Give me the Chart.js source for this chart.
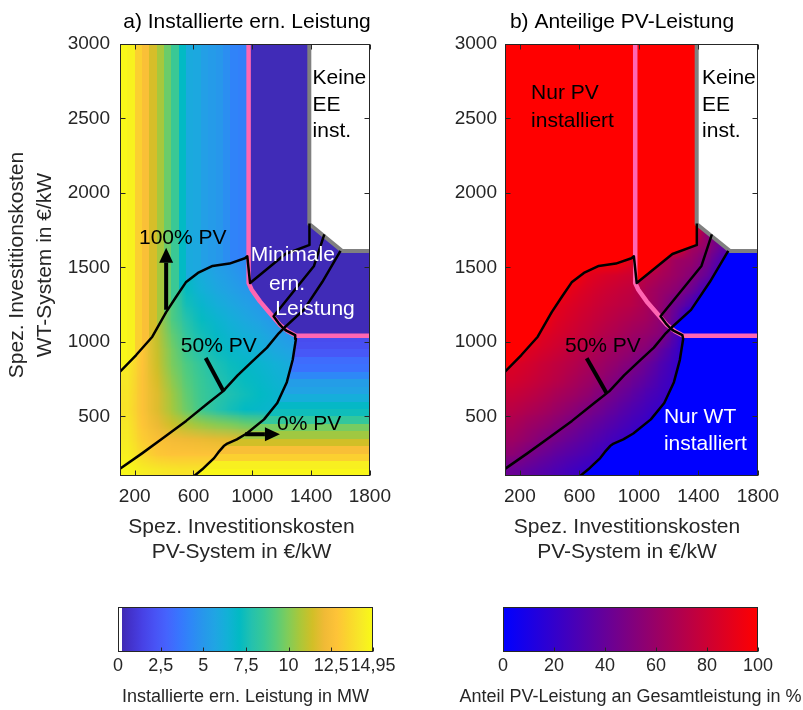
<!DOCTYPE html>
<html lang="de">
<head>
<meta charset="utf-8">
<title>Installierte ern. Leistung / Anteilige PV-Leistung</title>
<script src="https://cdn.jsdelivr.net/npm/chart.js@4.4.1/dist/chart.umd.min.js"></script>
<style>
  html, body { margin: 0; padding: 0; background: #fff; }
  #page { position: relative; width: 803px; height: 710px; overflow: hidden; }
  #page canvas { position: absolute; }
</style>
</head>
<body>
<div id="page">
  <canvas id="mapMW" width="400" height="580" style="left:0;top:0"></canvas>
  <canvas id="mapShare" width="403" height="580" style="left:400px;top:0"></canvas>
  <canvas id="barMW" width="400" height="120" style="left:0;top:590px"></canvas>
  <canvas id="barShare" width="403" height="120" style="left:400px;top:590px"></canvas>
</div>
<script>
// Axis ticks (PV cost on x, WT cost on y, both in €/kW)
const xTicks = [200, 600, 1000, 1400, 1800];
const yTicks = [500, 1000, 1500, 2000, 2500, 3000];
const mwTicks = [0, 2.5, 5, 7.5, 10, 12.5, 14.95];
const shareTicks = [0, 20, 40, 60, 80, 100];
const MW_MAX = 14.95;

// a) installed renewable capacity in MW
// only PV installed (left of the 100% PV line): depends on PV cost only
const pvBandEdges = [100, 150, 200, 250, 300, 350, 400, 450, 500, 550, 600, 650, 700, 750, 800, 850, 900, 950, 1000];
const pvOnlyMW = [14.8, 14.6, 13.3, 12.6, 11.5, 10.6, 9.6, 8.6, 7.1, 6.0, 5.9, 5.4, 5.2, 5.0, 4.6, 4.1, 4.0, 3.9];

// only WT installed (right of the 0% PV line): depends on WT cost only
const wtBandEdges = [100, 150, 200, 250, 300, 350, 400, 450, 500, 550, 600, 650, 700, 750, 800, 850, 900, 950, 1000, 1050];
const wtOnlyMW = [14.8, 14.5, 13.3, 12.5, 11.4, 10.5, 9.8, 8.4, 7.4, 7.0, 6.2, 5.6, 5.3, 4.3, 3.4, 3.2, 2.4, 2.0, 1.9];

// PV and WT mixed, rows from WT cost 100 upwards, columns from PV cost 100
const mixEdgesX = [100, 200, 300, 400, 500, 600, 700, 800, 900, 1000, 1100, 1200, 1300];
const mixEdgesY = [100, 200, 300, 400, 500, 600, 700, 800, 900, 1000, 1100, 1200, 1300, 1400, 1500, 1600];
const mixMW = [
  [14.8, 14.4, 14.2, 14.1, 14.0, 14.0, 14.1, 14.2, 14.3, 14.4, 14.5, 14.6],
  [14.5, 13.6, 13.0, 12.8, 12.8, 12.8, 12.8, 12.8, 12.7, 12.6, 12.5, 12.5],
  [14.3, 13.2, 12.6, 12.3, 12.1, 12.0, 11.9, 11.8, 11.6, 11.4, 11.2, 11.1],
  [14.2, 12.9, 12.0, 11.3, 10.8, 10.4, 10.1,  9.9,  9.6,  9.4,  9.2,  9.0],
  [14.0, 12.7, 11.7, 10.6,  9.6,  8.7,  8.0,  7.5,  7.1,  6.9,  6.7,  6.6],
  [14.1, 12.7, 11.7, 10.5,  9.4,  8.6,  8.1,  7.7,  7.4,  7.1,  6.8,  6.6],
  [14.2, 12.7, 11.5, 10.2,  9.2,  8.5,  7.9,  7.5,  7.2,  6.9,  6.6,  6.3],
  [14.3, 12.8, 11.3,  9.9,  9.0,  8.3,  7.7,  7.3,  7.0,  6.7,  6.4,  6.1],
  [14.5, 12.9, 11.2,  9.8,  8.6,  7.8,  7.3,  6.9,  6.6,  6.3,  5.9,  5.6],
  [14.6, 12.9, 11.1,  9.5,  8.3,  7.5,  7.0,  6.6,  6.3,  6.0,  5.5,  5.1],
  [14.7, 12.9, 11.0,  9.1,  7.9,  7.2,  6.7,  6.3,  5.9,  5.5,  5.0,  4.7],
  [14.7, 12.9, 11.0,  9.1,  7.5,  6.8,  6.3,  5.9,  5.5,  5.1,  4.7,  4.5],
  [14.7, 12.9, 11.0,  9.1,  7.2,  6.4,  5.9,  5.5,  5.1,  4.8,  4.5,  4.3],
  [14.7, 12.9, 11.0,  9.1,  7.0,  6.1,  5.6,  5.2,  4.7,  4.5,  4.3,  4.2],
  [14.7, 12.9, 11.0,  9.1,  7.0,  5.9,  5.3,  4.9,  4.3,  4.2,  4.1,  4.1]
];
const minimalMW = 0.3;   // "Minimale ern. Leistung"
const noReMW = 0;        // "Keine EE inst."

// b) PV share of the installed capacity in %
const pvOnlyShare = 100;
const wtOnlyShare = 0;
const shareEdgesX = [100, 200, 300, 400, 500, 600, 700, 800, 900, 1000, 1100, 1200, 1300, 1400, 1500, 1600];
const shareEdgesY = [100, 200, 300, 400, 500, 600, 700, 800, 900, 1000, 1100, 1200, 1300, 1400, 1500, 1600, 1700, 1800];
const pvShare = [
  [ 42,  38,  34,  30,  26,  22,  21,   0,   0,   0,   0,   0,   0,   0,   0],
  [ 55,  48,  42,  37,  33,  29,  24,  21,   0,   0,   0,   0,   0,   0,   0],
  [ 62,  57,  51,  45,  40,  35,  30,  25,  21,   0,   0,   0,   0,   0,   0],
  [ 67,  62,  58,  53,  47,  41,  36,  31,  26,  22,   0,   0,   0,   0,   0],
  [ 73,  69,  65,  60,  55,  49,  43,  37,  31,  26,  21,   0,   0,   0,   0],
  [ 78,  75,  71,  66,  62,  57,  50,  43,  37,  30,  25,  20,   0,   0,   0],
  [ 83,  80,  76,  72,  67,  62,  57,  50,  43,  36,  28,  21,   0,   0,   0],
  [ 86,  83,  79,  75,  71,  66,  61,  56,  50,  41,  31,  22,   0,   0,   0],
  [100,  88,  84,  80,  75,  71,  66,  61,  57,  52,  38,  25,   0,   0,   0],
  [100, 100,  88,  84,  80,  76,  71,  67,  62,  58,  52,  30,   0,   0,   0],
  [100, 100,  95,  87,  83,  79,  75,  71,  67,  63,  55,  35,   0,   0,   0],
  [100, 100, 100,  90,  86,  82,  78,  75,  72,  66,  57,  42,  28,   0,   0],
  [100, 100, 100, 100,  90,  85,  81,  78,  75,  66,  60,  54,  42,  25,   0],
  [100, 100, 100, 100, 100,  90,  86,  83,  80,  72,  66,  60,  53,  40,  22],
  [100, 100, 100, 100, 100, 100, 100, 100,  88, 100,  72,  62,  59,  48,  30],
  [100, 100, 100, 100, 100, 100, 100, 100, 100, 100, 100, 100,  65,  58,  40],
  [100, 100, 100, 100, 100, 100, 100, 100, 100, 100, 100, 100, 100,  55,  40]
];

// Contour lines and region borders as [PV cost, WT cost]
const line100 = [[100, 800], [210, 912], [320, 1035], [414, 1200], [480, 1300], [548, 1400], [630, 1463], [730, 1510],
  [845, 1526], [950, 1562], [966, 1575], [985, 1395], [1225, 1590], [1386, 1650], [1389, 1795]];
const line50 = [[100, 148], [250, 252], [400, 360], [550, 470], [700, 590], [800, 668], [900, 775], [1000, 870],
  [1100, 962], [1180, 1058], [1212, 1090], [1180, 1125], [1145, 1172], [1420, 1510], [1490, 1722]];
const line0 = [[605, 100], [660, 145], [695, 178], [740, 220], [770, 260], [806, 301], [830, 318], [895, 346], [962, 385],
  [1080, 480], [1170, 590], [1235, 730], [1275, 880], [1297, 1020], [1292, 1045], [1232, 1076], [1212, 1090],
  [1350, 1215], [1476, 1402], [1600, 1612]];
const pinkLine = [[975, 3000], [975, 1395], [996, 1350], [1052, 1272], [1119, 1194], [1187, 1116], [1242, 1071], [1298, 1042], [1800, 1042]];
const greyLine = [[1388, 3000], [1388, 1792], [1612, 1610], [1800, 1610]];

const wtZone = [...line0, [1800, 1610], [1800, 100]];
const mixZone = [...line100, ...[...line0].reverse(), [100, 100]];
const minimalZone = [...pinkLine, ...[...greyLine].reverse()];
const noReZone = [...greyLine, [1800, 3000]];

const FONT = "'Liberation Sans', Arial, Helvetica, sans-serif";
const INK = '#262626';
const PINK = '#ff66b2';
const GREY = '#808080';
Chart.defaults.font.family = FONT;
Chart.defaults.color = INK;
Chart.defaults.elements.point.radius = 0;

// parula colour map, evenly spaced stops
const PARULA = [[62, 38, 168], [67, 50, 203], [71, 65, 229], [72, 82, 244], [69, 99, 253], [56, 117, 254], [46, 135, 247],
  [39, 151, 235], [32, 165, 227], [18, 177, 214], [2, 186, 195], [36, 193, 174], [55, 200, 151], [87, 204, 122],
  [129, 204, 89], [171, 199, 57], [209, 191, 39], [240, 186, 54], [254, 195, 56], [250, 214, 45], [247, 233, 39], [249, 251, 21]];
const rgb = c => `rgb(${c.map(Math.round).join(',')})`;
function parula(t) {
  t = Math.min(1, Math.max(0, t));
  const f = t * (PARULA.length - 1);
  const i = Math.min(PARULA.length - 2, Math.floor(f)), u = f - i;
  return rgb(PARULA[i].map((a, k) => a + (PARULA[i + 1][k] - a) * u));
}
const WHITE_CUT = 1 / 64;
const mwColor = v => v / MW_MAX < WHITE_CUT ? '#ffffff' : parula(v / MW_MAX);
const shareColor = p => rgb([2.55 * p, 0, 255 - 2.55 * p]);

function tracePolygon(chart, pts) {
  const { ctx, scales: { x, y } } = chart;
  ctx.beginPath();
  pts.forEach(([a, b], i) => {
    const px = x.getPixelForValue(a), py = y.getPixelForValue(b);
    if (i) ctx.lineTo(px, py); else ctx.moveTo(px, py);
  });
  ctx.closePath();
}

// Blocks of constant value
function fillCells(chart, edgesX, edgesY, rows, color) {
  const { ctx, scales: { x, y } } = chart;
  rows.forEach((row, j) => {
    const y0 = Math.round(y.getPixelForValue(edgesY[j]));
    const y1 = Math.round(y.getPixelForValue(edgesY[j + 1]));
    row.forEach((v, i) => {
      const x0 = Math.round(x.getPixelForValue(edgesX[i]));
      const x1 = Math.round(x.getPixelForValue(edgesX[i + 1]));
      ctx.fillStyle = color(v);
      ctx.fillRect(x0, y1, x1 - x0, y0 - y1);
    });
  });
}

// Grid cells placed on the scales and shaded smoothly between cell centres
function shadeCells(chart, edgesX, edgesY, rows, color) {
  const { ctx, scales: { x, y } } = chart;
  const n = rows[0].length, m = rows.length;
  const off = document.createElement('canvas');
  off.width = n;
  off.height = m;
  const octx = off.getContext('2d');
  rows.forEach((row, j) => row.forEach((v, i) => {
    octx.fillStyle = color(v);
    octx.fillRect(i, m - 1 - j, 1, 1);
  }));
  const x0 = x.getPixelForValue(edgesX[0]), x1 = x.getPixelForValue(edgesX[n]);
  const yTop = y.getPixelForValue(edgesY[m]), yBot = y.getPixelForValue(edgesY[0]);
  ctx.imageSmoothingEnabled = true;
  ctx.imageSmoothingQuality = 'low';
  ctx.drawImage(off, x0, yTop, x1 - x0, yBot - yTop);
}

function clipTo(chart, pts, draw) {
  chart.ctx.save();
  tracePolygon(chart, pts);
  chart.ctx.clip();
  draw();
  chart.ctx.restore();
}

function clipArea(chart) {
  const { ctx, chartArea: a } = chart;
  ctx.beginPath();
  ctx.rect(a.left, a.top, a.width, a.height);
  ctx.clip();
}

const mwLayers = {
  id: 'mwLayers',
  beforeDatasetsDraw(chart) {
    const { ctx } = chart;
    ctx.save();
    clipArea(chart);
    fillCells(chart, pvBandEdges, [100, 3000], [pvOnlyMW], mwColor);
    clipTo(chart, wtZone, () => fillCells(chart, [100, 1800], wtBandEdges, wtOnlyMW.map(v => [v]), mwColor));
    clipTo(chart, mixZone, () => shadeCells(chart, mixEdgesX, mixEdgesY, mixMW, mwColor));
    ctx.fillStyle = mwColor(minimalMW);
    tracePolygon(chart, minimalZone);
    ctx.fill();
    ctx.fillStyle = mwColor(noReMW);
    tracePolygon(chart, noReZone);
    ctx.fill();
    ctx.restore();
  }
};

const shareLayers = {
  id: 'shareLayers',
  beforeDatasetsDraw(chart) {
    const { ctx, chartArea: a } = chart;
    ctx.save();
    clipArea(chart);
    ctx.fillStyle = shareColor(pvOnlyShare);
    ctx.fillRect(a.left, a.top, a.width, a.height);
    ctx.fillStyle = shareColor(wtOnlyShare);
    tracePolygon(chart, wtZone);
    ctx.fill();
    clipTo(chart, mixZone, () => shadeCells(chart, shareEdgesX, shareEdgesY, pvShare, shareColor));
    ctx.fillStyle = '#ffffff';
    tracePolygon(chart, noReZone);
    ctx.fill();
    ctx.restore();
  }
};

// Arrow heads, labels, MATLAB style box with inward ticks, titles
const overlay = {
  id: 'overlay',
  afterDatasetsDraw(chart, args, o) {
    const { ctx, chartArea: a, scales: { x, y } } = chart;
    ctx.save();
    ctx.fillStyle = '#000';
    (o.arrows || []).forEach(({ from, to }) => {
      const x0 = x.getPixelForValue(from[0]), y0 = y.getPixelForValue(from[1]);
      const x1 = x.getPixelForValue(to[0]), y1 = y.getPixelForValue(to[1]);
      const len = Math.hypot(x1 - x0, y1 - y0), ux = (x1 - x0) / len, uy = (y1 - y0) / len;
      ctx.beginPath();
      ctx.moveTo(x1 + ux * 15, y1 + uy * 15);
      ctx.lineTo(x1 - uy * 7, y1 + ux * 7);
      ctx.lineTo(x1 + uy * 7, y1 - ux * 7);
      ctx.closePath();
      ctx.fill();
    });
    ctx.font = `21px ${FONT}`;
    ctx.textBaseline = 'middle';
    o.notes.forEach(n => {
      ctx.fillStyle = n.color;
      ctx.textAlign = n.align || 'center';
      ctx.fillText(n.text, x.getPixelForValue(n.x), y.getPixelForValue(n.y));
    });

    ctx.strokeStyle = INK;
    ctx.lineWidth = 1;
    const L = Math.round(a.left) + 0.5, R = Math.round(a.right) - 0.5;
    const T = Math.round(a.top) + 0.5, B = Math.round(a.bottom) - 0.5;
    ctx.beginPath();
    xTicks.forEach(v => {
      const p = Math.round(x.getPixelForValue(v)) + 0.5;
      ctx.moveTo(p, B); ctx.lineTo(p, B - 5);
      ctx.moveTo(p, T); ctx.lineTo(p, T + 5);
    });
    yTicks.forEach(v => {
      const p = Math.round(y.getPixelForValue(v)) + 0.5;
      ctx.moveTo(L, p); ctx.lineTo(L + 5, p);
      ctx.moveTo(R, p); ctx.lineTo(R - 5, p);
    });
    ctx.stroke();
    ctx.strokeRect(L, T, R - L, B - T);
    ctx.restore();
  },
  afterDraw(chart, args, o) {
    const { ctx } = chart;
    ctx.save();
    ctx.textBaseline = 'middle';
    ctx.textAlign = 'center';
    ctx.font = `21px ${FONT}`;
    ctx.fillStyle = '#000';
    ctx.fillText(o.title.text, o.title.x, o.title.y);
    ctx.fillStyle = INK;
    o.xTitle.lines.forEach((t, i) => ctx.fillText(t, o.xTitle.x, o.xTitle.y[i]));
    if (o.yTitle) {
      o.yTitle.lines.forEach((t, i) => {
        ctx.save();
        ctx.translate(o.yTitle.x[i], o.yTitle.y);
        ctx.rotate(-Math.PI / 2);
        ctx.fillText(t, 0, 0);
        ctx.restore();
      });
    }
    ctx.restore();
  }
};

const path = (pts, color, width) => ({
  data: pts.map(([x, y]) => ({ x, y })),
  showLine: true, borderColor: color, borderWidth: width, borderJoinStyle: 'round', pointRadius: 0, fill: false
});

function mapChart(id, cfg) {
  return new Chart(document.getElementById(id), {
    type: 'scatter',
    data: { datasets: cfg.datasets },
    options: {
      responsive: false, animation: false, events: [], devicePixelRatio: 1,
      layout: { padding: { left: 0, right: cfg.padRight, top: 44, bottom: 0 } },
      plugins: { legend: { display: false }, tooltip: { enabled: false }, overlay: cfg.overlay },
      scales: {
        x: {
          type: 'linear', min: 100, max: 1800,
          afterBuildTicks: s => { s.ticks = xTicks.map(value => ({ value })); },
          afterFit: s => { s.height = 104; },
          grid: { display: false, drawTicks: false }, border: { display: false },
          ticks: { padding: 9, font: { size: 19 }, color: INK, maxRotation: 0, autoSkip: false, callback: v => String(v) }
        },
        y: {
          type: 'linear', min: 100, max: 3000,
          afterBuildTicks: s => { s.ticks = yTicks.map(value => ({ value })); },
          afterFit: s => { s.width = cfg.axisWidth; },
          grid: { display: false, drawTicks: false }, border: { display: false },
          ticks: { padding: cfg.tickPad, font: { size: 19 }, color: INK, autoSkip: false, callback: v => String(v) }
        }
      }
    },
    plugins: [cfg.layers, overlay]
  });
}

const xTitleLines = ['Spez. Investitionskosten', 'PV-System in €/kW'];

mapChart('mapMW', {
  padRight: 27, axisWidth: 120, tickPad: 10, layers: mwLayers,
  datasets: [
    path(line100, '#000', 2.5), path(line50, '#000', 2.5), path(line0, '#000', 2.5),
    path([[683, 892], [806, 666]], '#000', 4),
    path([[414, 1216], [414, 1531]], '#000', 4),
    path([[951, 380], [1086, 380]], '#000', 4),
    path(pinkLine, PINK, 4.5), path(greyLine, GREY, 4)
  ],
  overlay: {
    title: { text: 'a) Installierte ern. Leistung', x: 247, y: 22 },
    xTitle: { lines: xTitleLines, x: 241.5, y: [527.5, 552.5] },
    yTitle: { lines: ['Spez. Investitionskosten', 'WT-System in €/kW'], x: [17.7, 45.7], y: 265 },
    arrows: [{ from: [414, 1216], to: [414, 1531] }, { from: [951, 380], to: [1086, 380] }],
    notes: [
      { text: 'Keine', x: 1410, y: 2768, align: 'left', color: '#000' },
      { text: 'EE', x: 1410, y: 2590, align: 'left', color: '#000' },
      { text: 'inst.', x: 1410, y: 2413, align: 'left', color: '#000' },
      { text: 'Minimale', x: 1276, y: 1584, color: '#fff' },
      { text: 'ern.', x: 1236, y: 1388, color: '#fff' },
      { text: 'Leistung', x: 1427, y: 1220, color: '#fff' },
      { text: '100% PV', x: 527, y: 1694, color: '#000' },
      { text: '50% PV', x: 772, y: 969, color: '#000' },
      { text: '0% PV', x: 1387, y: 446, color: '#000' }
    ]
  }
});

mapChart('mapShare', {
  padRight: 45, axisWidth: 105, tickPad: 8, layers: shareLayers,
  datasets: [
    path(line100, '#000', 2.5), path(line50, '#000', 2.5), path(line0, '#000', 2.5),
    path([[649, 890], [783, 655]], '#000', 4),
    path(pinkLine, PINK, 4.5), path(greyLine, GREY, 4)
  ],
  overlay: {
    title: { text: 'b) Anteilige PV-Leistung', x: 222, y: 22 },
    xTitle: { lines: xTitleLines, x: 227, y: [527.5, 552.5] },
    notes: [
      { text: 'Keine', x: 1424, y: 2768, align: 'left', color: '#000' },
      { text: 'EE', x: 1424, y: 2590, align: 'left', color: '#000' },
      { text: 'inst.', x: 1424, y: 2413, align: 'left', color: '#000' },
      { text: 'Nur PV', x: 275, y: 2668, align: 'left', color: '#000' },
      { text: 'installiert', x: 275, y: 2483, align: 'left', color: '#000' },
      { text: 'Nur WT', x: 1168, y: 493, align: 'left', color: '#fff' },
      { text: 'installiert', x: 1168, y: 312, align: 'left', color: '#fff' },
      { text: '50% PV', x: 758, y: 969, color: '#000' }
    ]
  }
});

// Colour bars
const colorbar = {
  id: 'colorbar',
  beforeDraw(chart, args, o) {
    const { ctx, chartArea: a, scales: { x } } = chart;
    const g = ctx.createLinearGradient(x.getPixelForValue(o.min), 0, x.getPixelForValue(o.max), 0);
    o.stops.forEach(([t, c]) => g.addColorStop(t, c));
    ctx.save();
    ctx.fillStyle = g;
    ctx.fillRect(a.left, a.top, a.width, a.height);
    ctx.restore();
  },
  afterDraw(chart, args, o) {
    const { ctx, chartArea: a, scales: { x } } = chart;
    ctx.save();
    ctx.strokeStyle = INK;
    ctx.lineWidth = 1;
    const L = Math.round(a.left) + 0.5, R = Math.round(a.right) - 0.5;
    const T = Math.round(a.top) + 0.5, B = Math.round(a.bottom) - 0.5;
    ctx.beginPath();
    o.ticks.forEach(v => {
      const p = Math.round(x.getPixelForValue(v)) + 0.5;
      ctx.moveTo(p, B); ctx.lineTo(p, B - 4);
    });
    ctx.stroke();
    ctx.strokeRect(L, T, R - L, B - T);
    ctx.font = `18px ${FONT}`;
    ctx.fillStyle = INK;
    ctx.textAlign = 'center';
    ctx.textBaseline = 'middle';
    ctx.fillText(o.label, (a.left + a.right) / 2, 107);
    ctx.restore();
  }
};

function barChart(id, cfg) {
  return new Chart(document.getElementById(id), {
    type: 'scatter',
    data: { datasets: [] },
    options: {
      responsive: false, animation: false, events: [], devicePixelRatio: 1,
      layout: { padding: { left: cfg.padLeft, right: cfg.padRight, top: 17, bottom: 0 } },
      plugins: { legend: { display: false }, tooltip: { enabled: false }, colorbar: cfg.bar },
      scales: {
        x: {
          type: 'linear', min: cfg.bar.min, max: cfg.bar.max,
          afterBuildTicks: s => { s.ticks = cfg.bar.ticks.map(value => ({ value })); },
          afterFit: s => { s.height = 58; },
          grid: { display: false, drawTicks: false }, border: { display: false },
          ticks: { padding: 3, font: { size: 18 }, color: INK, maxRotation: 0, autoSkip: false,
                   callback: v => String(v).replace('.', ',') }
        },
        y: { display: false, min: 0, max: 1 }
      }
    },
    plugins: [colorbar]
  });
}

const mwStops = [[0, '#ffffff'], [WHITE_CUT, '#ffffff'], [WHITE_CUT, parula(WHITE_CUT)]]
  .concat(PARULA.map((c, i) => [i / (PARULA.length - 1), rgb(c)]).filter(([t]) => t > WHITE_CUT));

barChart('barMW', {
  padLeft: 118, padRight: 27,
  bar: { min: 0, max: MW_MAX, ticks: mwTicks, stops: mwStops, label: 'Installierte ern. Leistung in MW' }
});
barChart('barShare', {
  padLeft: 103, padRight: 45,
  bar: { min: 0, max: 100, ticks: shareTicks, stops: [[0, shareColor(0)], [1, shareColor(100)]],
         label: 'Anteil PV-Leistung an Gesamtleistung in %' }
});
</script>
</body>
</html>
